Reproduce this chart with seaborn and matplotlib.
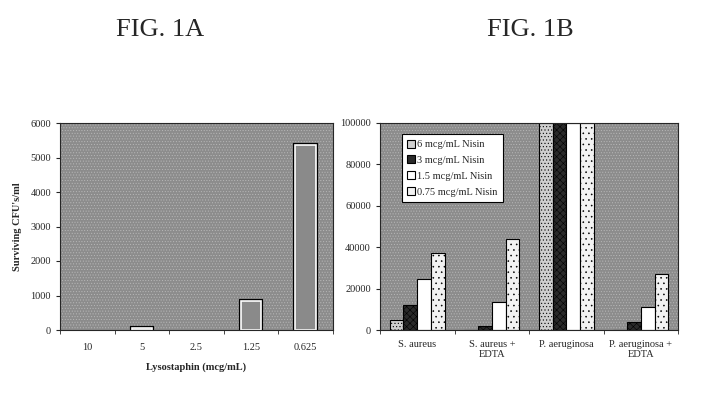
import pandas as pd
import matplotlib.pyplot as plt
import matplotlib.patheffects as pe
from matplotlib.patches import Rectangle
import seaborn as sns

# Fig 1A data: lysostaphin dose vs surviving CFU
lyso_doses = ["10", "5", "2.5", "1.25", "0.625"]
lyso_cfu = [0, 50, 0, 850, 5350]

# Fig 1B data: nisin doses per organism
organisms = ["S. aureus", "S. aureus +\nEDTA", "P. aeruginosa", "P. aeruginosa +\nEDTA"]
nisin_levels = ["6 mcg/mL Nisin", "3 mcg/mL Nisin", "1.5 mcg/mL Nisin", "0.75 mcg/mL Nisin"]
nisin_6 = [4800, 0, 100000, 0]
nisin_3 = [12100, 1900, 100000, 3700]
nisin_15 = [24500, 13400, 100000, 11000]
nisin_075 = [37100, 43900, 100000, 26900]

sns.set_style("ticks")
plt.rcParams['font.family'] = ['Liberation Serif', 'DejaVu Serif']
plt.rcParams['hatch.linewidth'] = 0.4

fig = plt.figure(figsize=(7.27, 4.0), dpi=100)
ax1 = fig.add_axes([0.0825, 0.175, 0.3755, 0.5175])
ax2 = fig.add_axes([0.5227, 0.175, 0.41, 0.5175])

def grainy_bg(ax):
    ax.set_facecolor('#8c8c8c')
    ax.add_patch(Rectangle((0, 0), 1, 1, transform=ax.transAxes, facecolor='none',
                           hatch='......', edgecolor='#b8b8b8', lw=0, zorder=0))
    for s in ['top', 'right', 'left', 'bottom']:
        ax.spines[s].set_linewidth(0.8)

# ---- Fig 1A ----
df_a = pd.DataFrame({'dose': lyso_doses, 'cfu': lyso_cfu})
grainy_bg(ax1)
sns.barplot(data=df_a, x='dose', y='cfu', order=lyso_doses, ax=ax1, width=0.38,
            color='#8a8a8a', edgecolor='white', linewidth=1.2, saturation=1, zorder=2)
for bar in ax1.containers[0]:
    if bar.get_height() <= 0:
        bar.set_visible(False)
    else:
        bar.set_path_effects([pe.Stroke(linewidth=3.0, foreground='black'), pe.Normal()])
ax1.set_ylim(0, 6000)
ax1.set_xlim(-0.5, len(lyso_doses) - 0.5)
ax1.set_yticks(range(0, 6001, 1000))
ax1.set_xticks(range(len(lyso_doses)))
ax1.set_xticklabels(lyso_doses)
ax1.set_xticks([i + 0.5 for i in range(-1, len(lyso_doses))], minor=True)
ax1.tick_params(axis='x', which='major', length=0, labelsize=7.5, pad=9)
ax1.tick_params(axis='x', which='minor', length=3, direction='out')
ax1.tick_params(axis='y', labelsize=7.5, length=3)
ax1.set_xlabel("Lysostaphin (mcg/mL)", fontsize=7.5, fontweight='bold', labelpad=8)
ax1.set_ylabel("Surviving CFU's/ml", fontsize=7.5, fontweight='bold', labelpad=6)

# ---- Fig 1B ----
df_b = pd.DataFrame({
    'organism': organisms * 4,
    'nisin': [lvl for lvl in nisin_levels for _ in organisms],
    'cfu': nisin_6 + nisin_3 + nisin_15 + nisin_075,
})
grainy_bg(ax2)
sns.barplot(data=df_b, x='organism', y='cfu', hue='nisin', order=organisms,
            hue_order=nisin_levels, ax=ax2, width=0.74, gap=0, saturation=1,
            palette=['#cfcfcf', '#2a2a2a', '#ffffff', '#f2f2f2'],
            edgecolor='black', linewidth=0.8, zorder=2)
hatches = ['.....', 'xxxxx', '', '...']
for cont, h in zip(ax2.containers, hatches):
    for bar in cont:
        bar.set_hatch(h)
ax2.set_ylim(0, 100000)
ax2.set_xlim(-0.5, len(organisms) - 0.5)
ax2.set_yticks(range(0, 100001, 20000))
ax2.set_xticks(range(len(organisms)))
ax2.set_xticklabels(organisms)
ax2.set_xticks([i + 0.5 for i in range(-1, len(organisms))], minor=True)
ax2.tick_params(axis='x', which='major', length=0, labelsize=7.5, pad=7)
ax2.tick_params(axis='x', which='minor', length=3, direction='out')
ax2.tick_params(axis='y', labelsize=7.5, length=3)
ax2.set_xlabel("")
ax2.set_ylabel("")
leg = ax2.legend(loc='upper left', bbox_to_anchor=(0.055, 0.97), fontsize=7.5,
                 frameon=True, fancybox=False, framealpha=1, edgecolor='black',
                 handlelength=0.8, handleheight=0.8, handletextpad=0.2,
                 labelspacing=0.6, borderpad=0.5)
leg.get_frame().set_linewidth(0.8)

fig.text(0.22, 0.925, "FIG. 1A", fontsize=19, ha='center', va='center')
fig.text(0.729, 0.925, "FIG. 1B", fontsize=19, ha='center', va='center')

fig.savefig('out.png', dpi=100)
